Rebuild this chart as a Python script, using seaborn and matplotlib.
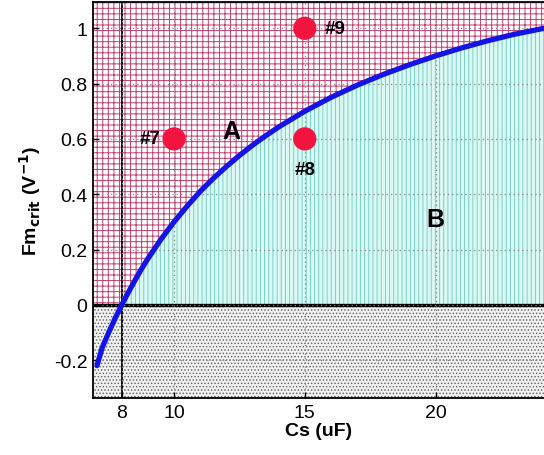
import matplotlib
matplotlib.use("Agg")
import matplotlib.pyplot as plt
import seaborn as sns
import pandas as pd

# ---- data ----
cs_curve = [7.05, 7.25, 7.5, 7.75, 8.0, 8.25, 8.5, 8.75, 9.0, 9.5, 10.0, 10.5,
            11.0, 11.5, 12.0, 12.5, 13.0, 13.5, 14.0, 15.0, 16.0, 17.0, 18.0,
            19.0, 20.0, 21.0, 22.0, 23.0, 24.15]
fm_curve = [-0.22, -0.155, -0.10, -0.048, 0.0, 0.045, 0.088, 0.129, 0.167,
            0.237, 0.30, 0.357, 0.41, 0.457, 0.50, 0.54, 0.577, 0.611, 0.643,
            0.70, 0.75, 0.794, 0.833, 0.868, 0.90, 0.929, 0.955, 0.978, 1.0]

pt_x = [10, 15, 15]
pt_y = [0.6, 0.6, 1.0]
pt_labels = ["#7", "#8", "#9"]

region_labels = ["A", "B"]
region_x = [12.2, 20.0]
region_y = [0.63, 0.31]

xticks = [8, 10, 15, 20]
yticks = [-0.2, 0, 0.2, 0.4, 0.6, 0.8, 1.0]
ytick_labels = ["-0.2", "0", "0.2", "0.4", "0.6", "0.8", "1"]

sns.set_style("ticks")
plt.rcParams["font.family"] = ["Liberation Sans", "DejaVu Sans"]
plt.rcParams["hatch.linewidth"] = 0.7
plt.rcParams["text.color"] = "black"
plt.rcParams["axes.labelcolor"] = "black"
plt.rcParams["xtick.color"] = "black"
plt.rcParams["ytick.color"] = "black"

fig = plt.figure(figsize=(5.44, 4.56), dpi=100)
ax = fig.add_axes([0.171, 0.125, 0.829, 0.8684])

xlim = (6.9, 24.15)
ylim = (-0.337, 1.095)
ax.set_xlim(*xlim)
ax.set_ylim(*ylim)

# region above zero: pink grid
ax.axhspan(0, ylim[1], facecolor="white", edgecolor="#bf3f6f", hatch="+++",
           linewidth=0, zorder=0.5)
# region below zero: grey stipple
ax.axhspan(ylim[0], 0, facecolor="#f2f2f2", edgecolor="#6a6a6a", hatch=".....",
           linewidth=0, zorder=0.5)
# region under curve (positive part): cyan stripes
df = pd.DataFrame({"Cs": cs_curve, "Fm": fm_curve})
pos = df["Fm"].clip(lower=0)
ax.fill_between(df["Cs"], 0, pos, facecolor="#dcf8f4", edgecolor="#78d0c4",
                hatch="||||", linewidth=0, zorder=0.8)

ax.grid(True, linestyle=(0, (1, 2.5)), color="#888888", linewidth=0.9)
ax.set_axisbelow(False)
for gl in ax.get_xgridlines() + ax.get_ygridlines():
    gl.set_zorder(1)

ax.axvline(8, color="black", linewidth=1.3, zorder=2)
ax.axhline(0, color="black", linewidth=2.4, zorder=2)

sns.lineplot(data=df, x="Cs", y="Fm", ax=ax, color="#1414e6", linewidth=3.8,
             zorder=3, sort=False)

pts = pd.DataFrame({"x": pt_x, "y": pt_y, "lab": pt_labels})
sns.scatterplot(data=pts, x="x", y="y", ax=ax, s=280, color="#f2143f",
                edgecolor="none", zorder=4, legend=False)

offsets = {"#7": (-0.5, 0.0, "right", "center"),
           "#8": (0.0, -0.11, "center", "center"),
           "#9": (0.75, 0.0, "left", "center")}
for lx, ly, lab in zip(pt_x, pt_y, pt_labels):
    dx, dy, ha, va = offsets[lab]
    ax.text(lx + dx, ly + dy, lab, fontsize=13.5, fontweight="bold",
            ha=ha, va=va, zorder=5)

for t, rx, ry in zip(region_labels, region_x, region_y):
    ax.text(rx, ry, t, fontsize=18, fontweight="bold", ha="center",
            va="center", zorder=5)

ax.set_xticks(xticks)
ax.set_xticklabels([str(v) for v in xticks])
ax.set_yticks(yticks)
ax.set_yticklabels(ytick_labels)
ax.tick_params(direction="in", length=4, labelsize=14, width=1, pad=4)

ax.set_xlabel("Cs (uF)", fontsize=14, fontweight="bold", labelpad=1)
ax.set_ylabel(r"Fm$_{\mathbf{crit}}$ (V$^{\mathbf{-1}}$)", fontsize=14,
              fontweight="bold", labelpad=8)

for s in ["left", "bottom", "top"]:
    ax.spines[s].set_visible(True)
    ax.spines[s].set_color("black")
    ax.spines[s].set_linewidth(1.3)
    ax.spines[s].set_zorder(6)
ax.spines["right"].set_visible(False)

fig.savefig("out.png", dpi=100)
